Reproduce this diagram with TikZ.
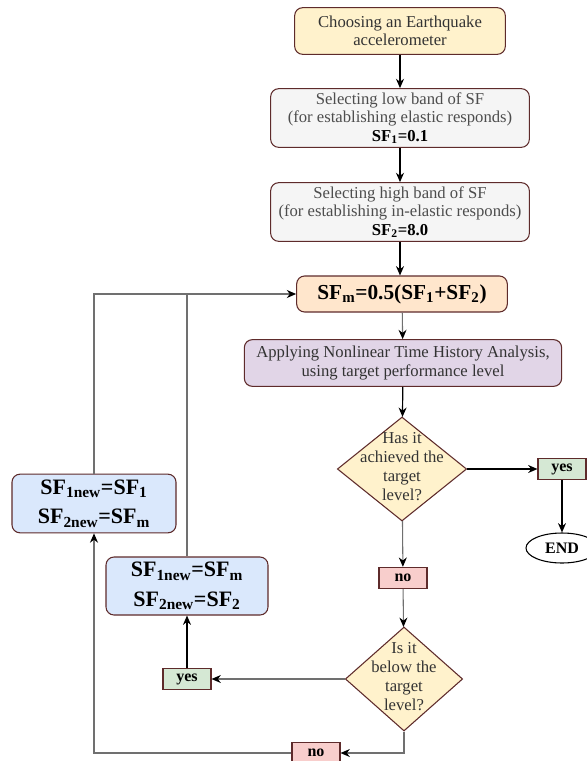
\documentclass[tikz,border=0pt]{standalone}
\usepackage{fontspec}
\setmainfont{Liberation Serif}
\usetikzlibrary{
  arrows.meta,
  positioning,
  shapes.geometric,
}
\definecolor{edgebrown}{HTML}{5E2B2B}
\definecolor{linegray}{HTML}{707070}
\definecolor{textgrey}{HTML}{4D4D4D}
\definecolor{textdark}{HTML}{333333}
\definecolor{startfill}{HTML}{FFF2CC}
\definecolor{greyfill}{HTML}{F5F5F5}
\definecolor{midfill}{HTML}{FFE6CC}
\definecolor{nlfill}{HTML}{E1D5E7}
\definecolor{decfill}{HTML}{FFF2CC}
\definecolor{yesfill}{HTML}{D5E8D4}
\definecolor{nofill}{HTML}{F8CECC}
\definecolor{newfill}{HTML}{DAE8FC}
% text of a diamond, kept out of the shape size
\newcommand{\dtext}[1]{\smash{\makebox[0pt]{\raisebox{-2.5pt}{\begin{tabular}{@{}c@{}}#1\end{tabular}}}}}

\begin{document}
\begin{tikzpicture}[
    x=0.75pt, y=-0.75pt,
    box/.style={rectangle, rounded corners=6pt, draw=edgebrown, line width=0.8pt,
                align=center, inner sep=1pt, text=textdark,
                font=\fontsize{12.5}{13.75}\selectfont},
    newbox/.style={box, fill=newfill, text=black,
                   font=\fontsize{16.5}{22}\selectfont\bfseries},
    tag/.style={rectangle, draw=edgebrown, line width=0.8pt, inner sep=0pt,
                minimum width=36pt, minimum height=16pt,
                font=\fontsize{12}{12}\selectfont\bfseries},
    decision/.style={diamond, draw=edgebrown, fill=decfill, line width=0.8pt,
                     inner sep=0pt, text=textdark,
                     font=\fontsize{12.5}{14.25}\selectfont},
    flow/.style={draw=black, line width=0.9pt, -{Stealth[length=7pt, width=6pt]}},
    back/.style={draw=linegray, line width=0.8pt,
                 -{Stealth[length=7pt, width=6pt, color=black]}},
    loopline/.style={draw=linegray, line width=0.8pt},
  ]
  \useasboundingbox (0,0) rectangle (586,761);

  % main column
  \node[box, fill=startfill, minimum width=158pt, minimum height=35pt] (choose) at (400,31)
    {Choosing an Earthquake\\accelerometer};
  \node[box, fill=greyfill, text=textgrey, minimum width=194pt, minimum height=44pt] (lowband) at (400,118)
    {Selecting low band of SF\\(for establishing elastic responds)\\\textcolor{black}{\textbf{SF\textsubscript{1}=0.1}}};
  \node[box, fill=greyfill, text=textgrey, minimum width=194pt, minimum height=44pt] (highband) at (400,212)
    {Selecting high band of SF\\(for establishing in-elastic responds)\\\textcolor{black}{\textbf{SF\textsubscript{2}=8.0}}};
  \node[box, fill=midfill, text=black, font=\fontsize{16}{18}\selectfont\bfseries,
        minimum width=158pt, minimum height=27pt] (sfm) at (402,294)
    {SF\textsubscript{m}=0.5(SF\textsubscript{1}+SF\textsubscript{2})};
  \node[box, fill=nlfill, minimum width=238pt, minimum height=35pt] (nltha) at (403,363)
    {Applying Nonlinear Time History Analysis,\\using target performance level};
  \node[decision, minimum width=97pt, minimum height=78pt] (achieved) at (402,469)
    {\dtext{Has it\\achieved the\\target\\level?}};
  \node[tag, fill=yesfill] (yesA) at (562,469) {yes};
  \node[ellipse, draw=black, line width=0.8pt, inner sep=0pt, minimum width=54pt,
        minimum height=22.5pt, font=\fontsize{12}{12}\selectfont\bfseries] (stop) at (562,548) {END};
  \node[tag, fill=nofill] (noA) at (403,578) {no};
  \node[decision, minimum width=88pt, minimum height=78pt] (below) at (404,679)
    {\dtext{Is it\\below the\\target\\level?}};
  \node[tag, fill=yesfill] (yesB) at (187,679) {yes};
  \node[tag, fill=nofill] (noB) at (316,753) {no};

  % new bands
  \node[newbox, minimum width=121.5pt, minimum height=43.5pt] (newM) at (187,586)
    {SF\textsubscript{1new}=SF\textsubscript{m}\\SF\textsubscript{2new}=SF\textsubscript{2}};
  \node[newbox, minimum width=123pt, minimum height=44pt] (newOne) at (94,503.5)
    {SF\textsubscript{1new}=SF\textsubscript{1}\\SF\textsubscript{2new}=SF\textsubscript{m}};
  \coordinate (joinM) at (newM |- sfm.west);

  \draw[flow] (choose) -- (lowband);
  \draw[flow] (lowband) -- (highband);
  \draw[flow] (highband) -- (highband.south |- sfm.north);
  \draw[back] (sfm) -- (nltha);
  \draw[flow] (nltha) -- (achieved);
  \draw[flow] (achieved) -- (yesA);
  \draw[flow] (yesA) -- (stop);
  \draw[back] (achieved) -- (noA);
  \draw[back] (noA) -- (below);
  \draw[back] (below) -- (yesB);
  \draw[flow] (yesB) -- (newM);
  \draw[back] (below.south) |- (noB);
  \draw[back] (noB) -| (newOne);
  \draw[back] (newOne) |- (sfm);
  \draw[loopline] (newM) -- (joinM);
\end{tikzpicture}
\end{document}
